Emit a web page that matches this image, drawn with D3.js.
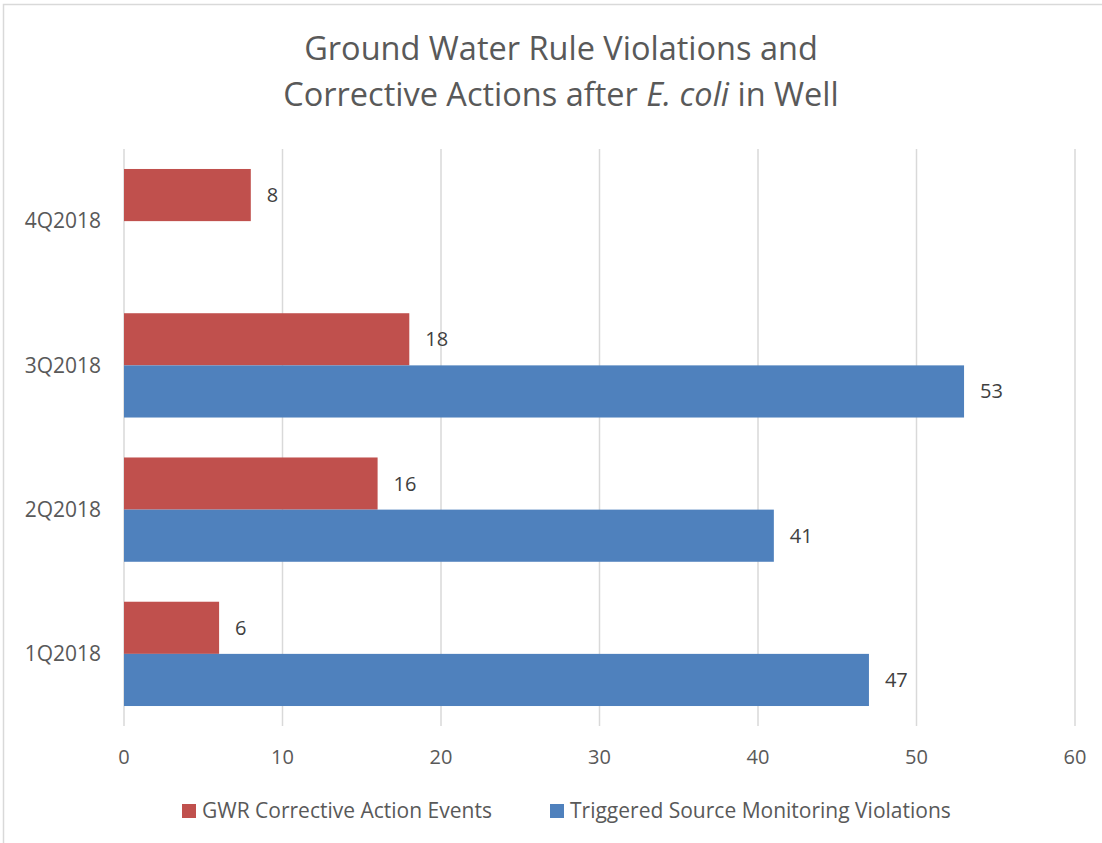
<!DOCTYPE html>
<html>
<head>
<meta charset="utf-8">
<script src="https://cdn.jsdelivr.net/npm/d3@7"></script>
<style>
  body { margin: 0; background: #fff; }
  svg text { font-family: "Open Sans", "Noto Sans", sans-serif; fill: #595959; }
</style>
</head>
<body>
<svg id="chart" width="1102" height="843"></svg>
<script>
var quarters = ["4Q2018", "3Q2018", "2Q2018", "1Q2018"];
var seriesNames = ["GWR Corrective Action Events", "Triggered Source Monitoring Violations"];
var correctiveEvents = [8, 18, 16, 6];
var triggeredViolations = [null, 53, 41, 47];
var xTicks = [0, 10, 20, 30, 40, 50, 60];
var colors = ["#c0504d", "#4f81bd"];

var svg = d3.select("#chart"),
    width = +svg.attr("width"),
    height = +svg.attr("height"),
    margin = {top: 149, right: 27, bottom: 117, left: 124};

// chart frame (light gray border, cut off at right/bottom like the source)
svg.append("rect")
    .attr("x", 3.5).attr("y", 4.5)
    .attr("width", width).attr("height", height)
    .attr("fill", "none")
    .attr("stroke", "#d9d9d9")
    .attr("stroke-width", 1.5);

var x = d3.scaleLinear()
    .domain([0, 60])
    .range([margin.left, width - margin.right]);

var y = d3.scaleBand()
    .domain(quarters)
    .range([margin.top, height - margin.bottom])
    .paddingInner(0.277)
    .paddingOuter(0.1385);

var ySub = d3.scaleBand()
    .domain(seriesNames)
    .range([0, y.bandwidth()]);

var rows = quarters.map(function(q, i) {
  return {q: q, values: [correctiveEvents[i], triggeredViolations[i]]};
});

// gridlines
svg.append("g")
  .selectAll("line")
  .data(xTicks)
  .enter().append("line")
    .attr("x1", function(d) { return x(d); })
    .attr("x2", function(d) { return x(d); })
    .attr("y1", margin.top)
    .attr("y2", height - margin.bottom)
    .attr("stroke", "#d9d9d9")
    .attr("stroke-width", 1.5);

// x tick labels
svg.append("g")
  .selectAll("text")
  .data(xTicks)
  .enter().append("text")
    .attr("x", function(d) { return x(d); })
    .attr("y", 757)
    .attr("dy", "0.35em")
    .attr("text-anchor", "middle")
    .attr("font-size", 20)
    .text(function(d) { return d; });

// category labels
svg.append("g")
  .selectAll("text")
  .data(quarters)
  .enter().append("text")
    .attr("x", 101)
    .attr("y", function(d) { return y(d) + y.bandwidth() / 2; })
    .attr("dy", "0.35em")
    .attr("text-anchor", "end")
    .attr("font-size", 21)
    .text(function(d) { return d; });

// bars
var group = svg.append("g")
  .selectAll("g")
  .data(rows)
  .enter().append("g")
    .attr("transform", function(d) { return "translate(0," + y(d.q) + ")"; });

var cells = group.selectAll("g")
  .data(function(d) {
    return d.values.map(function(v, i) { return {name: seriesNames[i], value: v, i: i}; })
      .filter(function(e) { return e.value != null; });
  })
  .enter().append("g");

cells.append("rect")
    .attr("x", x(0))
    .attr("y", function(d) { return ySub(d.name); })
    .attr("width", function(d) { return x(d.value) - x(0); })
    .attr("height", ySub.bandwidth())
    .attr("fill", function(d) { return colors[d.i]; });

cells.append("text")
    .attr("x", function(d) { return x(d.value) + 16; })
    .attr("y", function(d) { return ySub(d.name) + ySub.bandwidth() / 2; })
    .attr("dy", "0.35em")
    .attr("font-size", 20)
    .style("fill", "#404040")
    .text(function(d) { return d.value; });

// title
var title = svg.append("text")
    .attr("text-anchor", "middle")
    .attr("font-size", 32.5);
title.append("tspan")
    .attr("x", 561).attr("y", 60)
    .text("Ground Water Rule Violations and");
var line2 = title.append("tspan")
    .attr("x", 561).attr("y", 106);
line2.append("tspan").text("Corrective Actions after ");
line2.append("tspan").attr("font-style", "italic").text("E. coli");
line2.append("tspan").text(" in Well");

// legend
var legendX = [182, 550];
var legend = svg.append("g")
  .selectAll("g")
  .data(seriesNames)
  .enter().append("g")
    .attr("transform", function(d, i) { return "translate(" + legendX[i] + ",804)"; });

legend.append("rect")
    .attr("width", 14)
    .attr("height", 14)
    .attr("fill", function(d, i) { return colors[i]; });

legend.append("text")
    .attr("x", 20)
    .attr("y", 7)
    .attr("dy", "0.35em")
    .attr("font-size", 21)
    .text(function(d) { return d; });
</script>
</body>
</html>
